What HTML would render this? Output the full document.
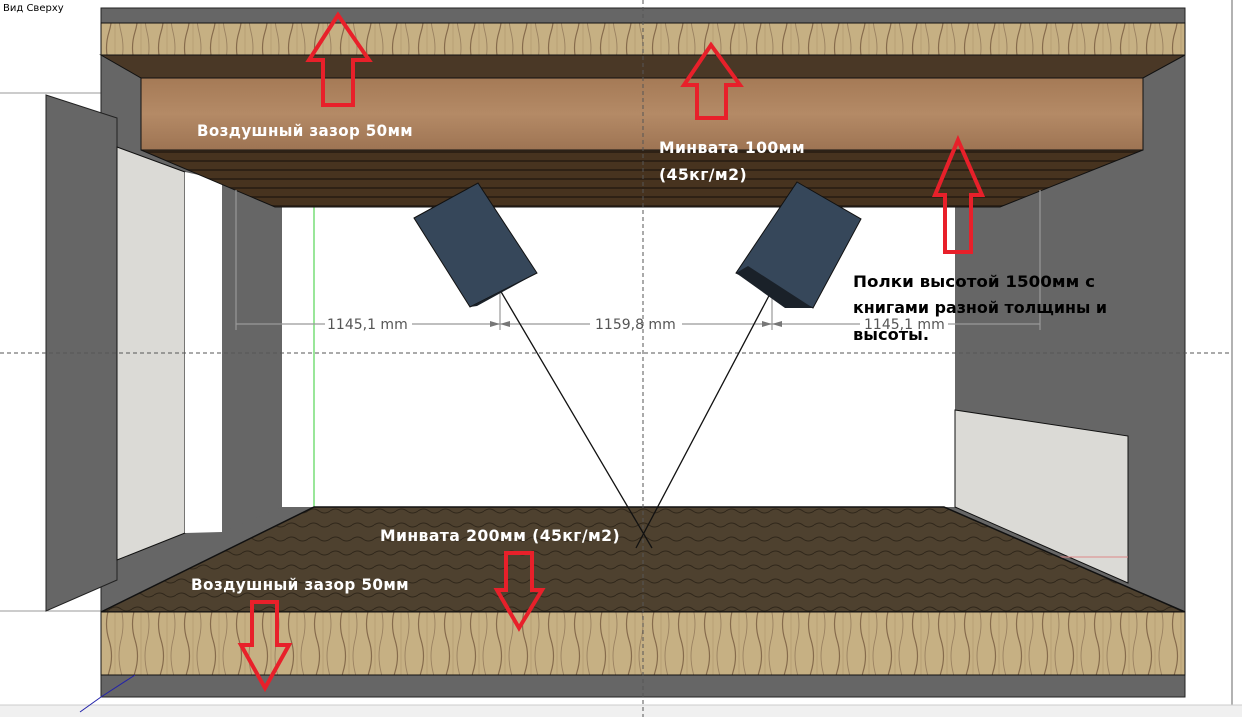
<!DOCTYPE html>
<html><head><meta charset="utf-8"><style>
html,body{margin:0;padding:0;background:#fff;}
svg{display:block;}
text{font-family:"DejaVu Sans","Liberation Sans",sans-serif;}
</style></head><body>
<svg width="1242" height="717" viewBox="0 0 1242 717" xmlns="http://www.w3.org/2000/svg">
<defs>
<pattern id="wood" width="26" height="64" patternUnits="userSpaceOnUse">
<rect width="26" height="64" fill="#c6b083"/>
<path d="M5 0 q5 16 0 32 q-5 16 0 32" stroke="#866b4c" stroke-width="1.2" fill="none"/>
<path d="M17 0 q-4 16 0 32 q4 16 0 32" stroke="#9a8160" stroke-width="0.9" fill="none"/>
<path d="M11 0 v64" stroke="#b8a176" stroke-width="1"/>
</pattern>
<pattern id="floor" width="22" height="14" patternUnits="userSpaceOnUse">
<rect width="22" height="14" fill="#4e412f"/>
<path d="M0 7 q5.5 -4 11 0 q5.5 4 11 0" stroke="#30271b" stroke-width="1" fill="none"/>
</pattern>
<linearGradient id="mv" x1="0" y1="0" x2="0" y2="1">
<stop offset="0" stop-color="#a57a56"/><stop offset="0.5" stop-color="#b48a66"/><stop offset="1" stop-color="#9e7453"/>
</linearGradient>
<pattern id="stripes" width="10" height="9" patternUnits="userSpaceOnUse">
<rect width="10" height="9" fill="#47331f"/>
<rect y="7" width="10" height="2" fill="#2e2115"/>
</pattern>
</defs>
<rect width="1242" height="717" fill="#fff"/>
<line x1="0" y1="93" x2="101" y2="93" stroke="#999"/>
<line x1="0" y1="611" x2="101" y2="611" stroke="#999"/>
<line x1="1232" y1="0" x2="1232" y2="705" stroke="#666"/>
<rect x="0" y="705" width="1242" height="12" fill="#f0f0f0"/>
<line x1="0" y1="705" x2="1242" y2="705" stroke="#ccc"/>
<rect x="101" y="8" width="1084" height="689" fill="#666" stroke="#222"/>
<polygon points="46,95 117,118 117,580 46,611" fill="#666" stroke="#222"/>
<polygon points="117,147 185,172 185,533 117,560" fill="#dbdad6" stroke="#111"/>
<polygon points="185,172 222,180 222,532 185,533" fill="#fff"/>
<polygon points="222,180 282,200 282,507 222,532" fill="#666"/>
<rect x="282" y="207" width="673" height="300" fill="#fff"/>
<line x1="314" y1="207" x2="314" y2="507" stroke="#3c3" />
<polygon points="955,410 1128,436 1128,583 955,507" fill="#dbdad6" stroke="#111"/>
<line x1="1055" y1="557" x2="1128" y2="557" stroke="#d88"/>
<rect x="101" y="23" width="1084" height="32" fill="url(#wood)" stroke="#111"/>
<polygon points="101,55 1185,55 1143,78 141,78" fill="#4a3826" stroke="#111"/>
<rect x="141" y="78" width="1002" height="72" fill="url(#mv)" stroke="#111"/>
<polygon points="141,150 1143,150 1000,207 275,207" fill="url(#stripes)" stroke="#111"/>
<polygon points="314,507 944,507 1185,612 101,612" fill="url(#floor)" stroke="#111" stroke-width="1.5"/>
<rect x="101" y="612" width="1084" height="63" fill="url(#wood)" stroke="#111"/>
<line x1="101" y1="697" x2="135" y2="675" stroke="#22a"/>
<line x1="80" y1="712" x2="101" y2="697" stroke="#22a"/>
<line x1="643" y1="0" x2="643" y2="717" stroke="#555" stroke-dasharray="4,3"/>
<line x1="0" y1="353" x2="1232" y2="353" stroke="#555" stroke-dasharray="4,3"/>
<g stroke="#999" stroke-width="1.2">
<line x1="236" y1="190" x2="236" y2="330"/>
<line x1="500" y1="290" x2="500" y2="330"/>
<line x1="772" y1="290" x2="772" y2="330"/>
<line x1="1040" y1="190" x2="1040" y2="330"/>
<line x1="236" y1="324" x2="325" y2="324"/><line x1="412" y1="324" x2="590" y2="324"/>
<line x1="682" y1="324" x2="860" y2="324"/><line x1="948" y1="324" x2="1040" y2="324"/>
</g>
<g fill="#777">
<polygon points="490,321 500,324 490,327"/><polygon points="510,321 500,324 510,327"/>
<polygon points="762,321 772,324 762,327"/><polygon points="782,321 772,324 782,327"/>
</g>
<g font-size="14" fill="#555">
<text x="327" y="329">1145,1 mm</text>
<text x="595" y="329">1159,8 mm</text>
<text x="864" y="329">1145,1 mm</text>
</g>
<line x1="500" y1="290" x2="652" y2="548" stroke="#111" stroke-width="1.3"/>
<line x1="772" y1="290" x2="636" y2="548" stroke="#111" stroke-width="1.3"/>
<polygon points="414,218 478,183 537,273 470,307" fill="#36475a" stroke="#111"/>
<polygon points="470,307 537,273 477,306" fill="#1a2129"/>
<polygon points="797,182 861,219 813,308 736,273" fill="#36475a" stroke="#111"/>
<polygon points="736,273 748,266 813,308 785,308" fill="#1a2129"/>
<g fill="none" stroke="#e8202a" stroke-width="4" stroke-linejoin="miter">
<polygon points="338,15 369,60 353,60 353,105 323,105 323,60 309,60"/>
<polygon points="711,45 740,85 726,85 726,118 697,118 697,85 684,85"/>
<polygon points="958,140 982,195 971,195 971,252 945,252 945,195 935,195"/>
<polygon points="265,688 289,645 277,645 277,602 252,602 252,645 241,645"/>
<polygon points="519,628 542,590 532,590 532,553 506,553 506,590 497,590"/>
</g>
<g font-size="16" font-weight="bold" fill="#fff" letter-spacing="0.4">
<text x="197" y="136" textLength="216" lengthAdjust="spacingAndGlyphs">Воздушный зазор 50мм</text>
<text x="659" y="153" textLength="146" lengthAdjust="spacingAndGlyphs">Минвата 100мм</text>
<text x="659" y="180" textLength="88" lengthAdjust="spacingAndGlyphs">(45кг/м2)</text>
<text x="380" y="541" textLength="240" lengthAdjust="spacingAndGlyphs">Минвата 200мм (45кг/м2)</text>
<text x="191" y="590" textLength="218" lengthAdjust="spacingAndGlyphs">Воздушный зазор 50мм</text>
</g>
<g font-size="16" font-weight="bold" fill="#000">
<text x="853" y="287" textLength="242" lengthAdjust="spacingAndGlyphs">Полки высотой 1500мм с</text>
<text x="853" y="313" textLength="254" lengthAdjust="spacingAndGlyphs">книгами разной толщины и</text>
<text x="853" y="340" textLength="76" lengthAdjust="spacingAndGlyphs">высоты.</text>
</g>
<text x="3" y="11" font-size="10" fill="#000">Вид Сверху</text>
</svg>
</body></html>
